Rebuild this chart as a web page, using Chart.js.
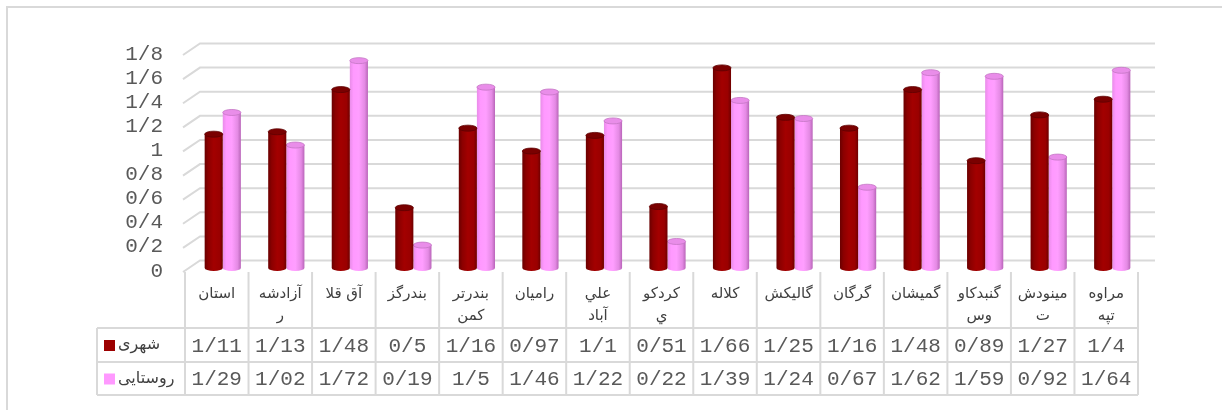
<!DOCTYPE html>
<html lang="fa">
<head>
<meta charset="utf-8">
<title>شهری و روستایی</title>
<script src="https://cdn.jsdelivr.net/npm/chart.js@4.4.1/dist/chart.umd.min.js"></script>
<style>
    html, body { margin: 0; padding: 0; background: #fff; }
    canvas { display: block; }
</style>
</head>
<body>
<canvas id="chart" width="1222" height="410"></canvas>
<script>
// داده ها
const shahrestanha = [
    'استان', ['آزادشه', 'ر'], 'آق قلا', 'بندرگز', ['بندرتر', 'کمن'], 'رامیان', ['علي', 'آباد'],
    ['کردکو', 'ي'], 'کلاله', 'گالیکش', 'گرگان', 'گمیشان', ['گنبدکاو', 'وس'], ['مینودش', 'ت'], ['مراوه', 'تپه']
];
const shahri = [1.11, 1.13, 1.48, 0.5, 1.16, 0.97, 1.1, 0.51, 1.66, 1.25, 1.16, 1.48, 0.89, 1.27, 1.4];
const roostaei = [1.29, 1.02, 1.72, 0.19, 1.5, 1.46, 1.22, 0.22, 1.39, 1.24, 0.67, 1.62, 1.59, 0.92, 1.64];
const yTickLabels = ['0', '0/2', '0/4', '0/6', '0/8', '1', '1/2', '1/4', '1/6', '1/8'];

const seriesNames = ['شهری', 'روستایی'];
const seriesColors = ['#9c0000', '#ff99ff'];

const gridColor = '#d9d9d9';
const textGrey = '#595959';
const monoFont = '"Liberation Mono", "Courier New", monospace';
const persianFont = '"DejaVu Sans", sans-serif';
const depth = 6; // جابجایی سه بعدی ستون ها

// رنگ های استوانه
const shades = [
    { stops: ['#6a0000', '#8c0000', '#a30000', '#9a0000', '#6e0000'], cap: '#7a0000', rim: '#5e0000' },
    { stops: ['#e88ce8', '#ff99ff', '#ff9eff', '#e48ae4', '#b965b9'], cap: '#e98de9', rim: '#c476c4' }
];

const fmt = v => String(v).replace('.', '/');

// قاب بیرونی
const framePlugin = {
    id: 'frame',
    beforeDraw(chart) {
        const ctx = chart.ctx;
        ctx.save();
        ctx.strokeStyle = gridColor;
        ctx.lineWidth = 2;
        ctx.beginPath();
        ctx.moveTo(1222, 7);
        ctx.lineTo(7, 7);
        ctx.lineTo(7, 410);
        ctx.stroke();
        ctx.restore();
    }
};

// خطوط شبکه سه بعدی
const wallPlugin = {
    id: 'wall',
    beforeDatasetsDraw(chart) {
        const ctx = chart.ctx;
        const yScale = chart.scales.y;
        const area = chart.chartArea;
        ctx.save();
        ctx.strokeStyle = gridColor;
        ctx.lineWidth = 2;
        yScale.ticks.forEach(t => {
            const y = yScale.getPixelForValue(t.value);
            ctx.beginPath();
            ctx.moveTo(area.left - 2, y + 4);
            ctx.lineTo(area.left + 15, y - 7.5);
            ctx.lineTo(area.right + 17, y - 7.5);
            ctx.stroke();
        });
        ctx.restore();
    }
};

// ستون های استوانه ای (به جای ستون های تخت)
const cylinderPlugin = {
    id: 'cylinder',
    beforeDatasetDraw(chart, args) {
        const ctx = chart.ctx;
        const sh = shades[args.index];
        args.meta.data.forEach(bar => {
            const p = bar.getProps(['x', 'y', 'base', 'width'], true);
            const x = p.x + depth;
            const y = p.y;
            const base = p.base;
            const l = x - p.width / 2;
            const r = x + p.width / 2;
            const rx = p.width / 2;
            const ry = 3;
            const g = ctx.createLinearGradient(l, 0, r, 0);
            g.addColorStop(0, sh.stops[0]);
            g.addColorStop(0.2, sh.stops[1]);
            g.addColorStop(0.5, sh.stops[2]);
            g.addColorStop(0.82, sh.stops[3]);
            g.addColorStop(1, sh.stops[4]);
            ctx.save();
            ctx.fillStyle = g;
            ctx.beginPath();
            ctx.moveTo(l, y);
            ctx.lineTo(l, base);
            ctx.ellipse(x, base, rx, ry, 0, Math.PI, 0, true);
            ctx.lineTo(r, y);
            ctx.closePath();
            ctx.fill();
            ctx.beginPath();
            ctx.ellipse(x, y, rx, ry, 0, 0, Math.PI * 2);
            ctx.fillStyle = sh.cap;
            ctx.fill();
            ctx.strokeStyle = sh.rim;
            ctx.lineWidth = 0.8;
            ctx.stroke();
            ctx.restore();
        });
        return false;
    }
};

// جدول داده ها
const tablePlugin = {
    id: 'dataTable',
    afterDraw(chart) {
        const ctx = chart.ctx;
        const xScale = chart.scales.x;
        const area = chart.chartArea;
        const n = shahrestanha.length;
        const w = (area.right - area.left) / n;
        const top = 272, row1 = 328, row2 = 362, bottom = 395, legendLeft = 97;

        ctx.save();
        ctx.strokeStyle = gridColor;
        ctx.lineWidth = 2;
        ctx.beginPath();
        for (let i = 0; i <= n; i++) {
            const x = area.left + i * w;
            ctx.moveTo(x, top);
            ctx.lineTo(x, bottom);
        }
        ctx.moveTo(legendLeft, row1);
        ctx.lineTo(legendLeft, bottom);
        [row1, row2, bottom].forEach(y => {
            ctx.moveTo(legendLeft, y);
            ctx.lineTo(area.right, y);
        });
        ctx.stroke();

        const rows = [shahri, roostaei];
        const centers = [(row1 + row2) / 2, (row2 + bottom) / 2];
        ctx.fillStyle = textGrey;
        ctx.font = '21px ' + monoFont;
        ctx.textAlign = 'center';
        ctx.textBaseline = 'middle';
        rows.forEach((vals, r) => {
            vals.forEach((v, i) => {
                ctx.fillText(fmt(v), xScale.getPixelForValue(i), centers[r] + 1);
            });
        });

        // راهنما
        ctx.font = '16px ' + persianFont;
        ctx.textAlign = 'left';
        seriesNames.forEach((name, r) => {
            ctx.fillStyle = seriesColors[r];
            ctx.fillRect(104, centers[r] - 5, 11, 11);
            ctx.fillStyle = '#404040';
            ctx.fillText(name, 118, centers[r]);
        });
        ctx.restore();
    }
};

new Chart(document.getElementById('chart'), {
    type: 'bar',
    data: {
        labels: shahrestanha,
        datasets: [{
            label: seriesNames[0],
            data: shahri,
            backgroundColor: seriesColors[0],
            barPercentage: 1,
            categoryPercentage: 0.57
        }, {
            label: seriesNames[1],
            data: roostaei,
            backgroundColor: seriesColors[1],
            barPercentage: 1,
            categoryPercentage: 0.57
        }]
    },
    options: {
        responsive: false,
        animation: false,
        layout: { padding: { top: 51, right: 84, bottom: 0, left: 0 } },
        plugins: {
            legend: { display: false },
            tooltip: { enabled: false }
        },
        scales: {
            x: {
                grid: { display: false, drawTicks: false },
                border: { display: false },
                ticks: {
                    color: '#404040',
                    padding: 15,
                    maxRotation: 0,
                    autoSkip: false,
                    font: { family: persianFont, size: 15, lineHeight: 1.45 }
                },
                afterFit(scale) { scale.height = 142; }
            },
            y: {
                min: 0,
                max: 1.8,
                grid: { display: false, drawTicks: false },
                border: { display: false },
                ticks: {
                    stepSize: 0.2,
                    autoSkip: false,
                    color: textGrey,
                    padding: 22,
                    labelOffset: 3,
                    font: { family: monoFont, size: 21 },
                    callback: (v, i) => yTickLabels[i]
                },
                afterFit(scale) { scale.width = 185; }
            }
        }
    },
    plugins: [framePlugin, wallPlugin, cylinderPlugin, tablePlugin]
});
</script>
</body>
</html>
